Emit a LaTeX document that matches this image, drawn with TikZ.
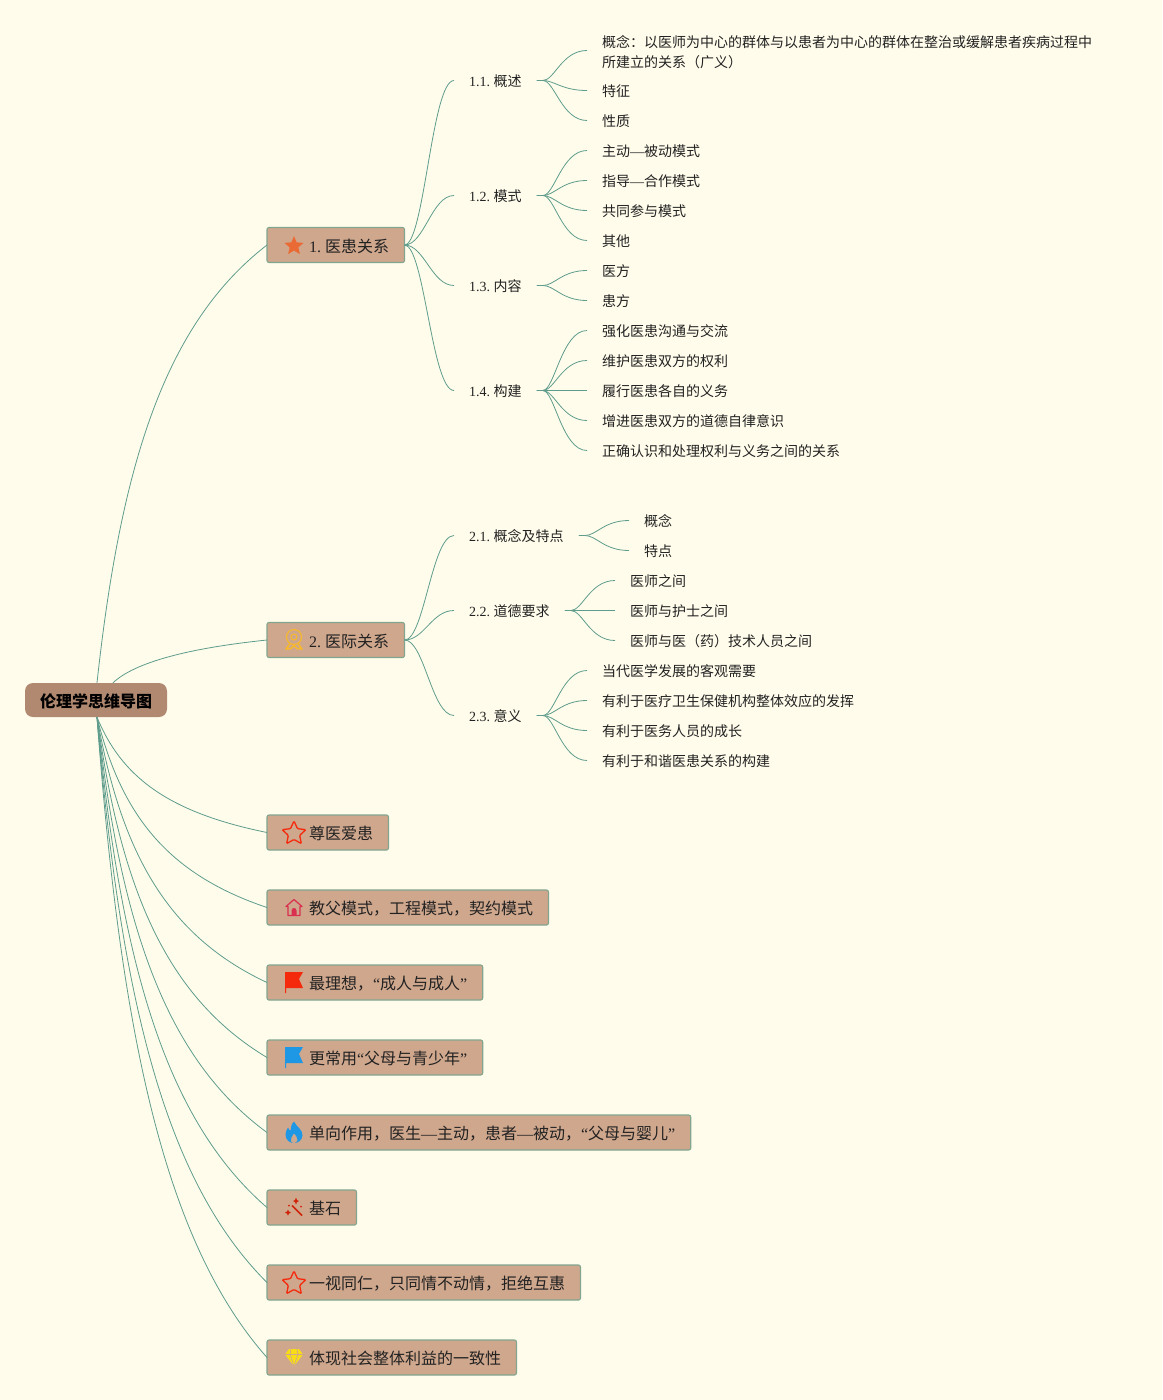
\documentclass[tikz,border=0pt]{standalone}
\usepackage{fontspec}
\setmainfont{Liberation Serif}
\newfontfamily\cjk{Noto Sans CJK SC}
\newcommand{\zh}[1]{{\cjk #1}}
\usetikzlibrary{positioning, calc, shapes.geometric}
\definecolor{paper}{HTML}{FFFCEB}
\definecolor{ink}{HTML}{222222}
\definecolor{linkc}{HTML}{5E9C8C}
\definecolor{topicbg}{HTML}{CFA78D}
\definecolor{topicline}{HTML}{82A58F}
\definecolor{rootbg}{HTML}{B08970}
\definecolor{iconred}{HTML}{F52A0C}
\definecolor{iconblue}{HTML}{1E98E5}
\definecolor{iconorange}{HTML}{EA6A35}
\definecolor{iconyellow}{HTML}{F5B82E}
\definecolor{iconrose}{HTML}{D9304F}
\definecolor{icongem}{HTML}{F7DC16}
\tikzset{
  root/.style={
    draw=none,
    fill=rootbg,
    rounded corners=8pt,
    minimum width=142pt, minimum height=34pt,
    inner sep=0pt,
    text height=16.2pt, text depth=2pt,
    font=\fontsize{16}{20}\selectfont\bfseries\frenchspacing
  },
  topic/.style={
    anchor=west,
    draw=topicline, line width=1.1pt,
    fill=topicbg,
    text=ink,
    rounded corners=2pt,
    minimum height=35pt,
    outer sep=0pt,
    inner xsep=15.5pt, inner ysep=0pt,
    text height=16.2pt, text depth=2pt,
    font=\fontsize{16}{20}\selectfont\frenchspacing,
    execute at begin node=\hspace*{26.5pt}
  },
  subtopic/.style={
    anchor=west,
    text=ink,
    inner xsep=15pt, inner ysep=0pt,
    text height=14.6pt, text depth=2pt,
    font=\fontsize{14}{20}\selectfont\frenchspacing
  },
  leaf/.style={
    anchor=west,
    text=ink,
    inner xsep=15pt, inner ysep=0pt,
    text height=14.6pt, text depth=2pt,
    font=\fontsize{14}{20}\selectfont\frenchspacing
  },
  link/.style={
    color=linkc, line width=0.8pt,
    to path={let \p1=(\tikztostart), \p2=(\tikztotarget) in
      .. controls ({\x1+0.4*(\x2-\x1)},\y1) and ({\x1+0.55*(\x2-\x1)},\y2) .. (\tikztotarget)}
  },
  leaflink/.style={
    color=linkc, line width=0.8pt,
    to path={let \p1=(\tikztostart), \p2=(\tikztotarget) in
      -- ({\x1+6pt},\y1) .. controls ({\x1+0.35*(\x2-\x1)},\y1) and ({\x1+0.5*(\x2-\x1)},\y2) .. (\tikztotarget)}
  },
  rootlink/.style={
    color=linkc, line width=0.8pt,
    to path={let \p1=(\tikztostart), \p2=(\tikztotarget) in
      .. controls ({\x1+0.14*(\x2-\x1)},{\y1+0.5*(\y2-\y1)}) and ({\x1+0.4*(\x2-\x1)},{\y1+0.82*(\y2-\y1)}) .. (\tikztotarget)}
  },
  starfull/.style={star, star points=5, star point ratio=2.2, fill=iconorange, minimum size=20pt, inner sep=0pt},
  starline/.style={star, star points=5, star point ratio=2.1, draw=iconred, line width=1.3pt, rounded corners=1pt, minimum size=25pt, inner sep=0pt},
  pics/medal/.style={code={
    \draw[iconyellow, line width=1.2pt] (0,-3) circle (7.5);
    \draw[iconyellow, line width=1.1pt] (0,-3) circle (3);
    \draw[iconyellow, line width=1.6pt, line join=round] (-4,3.5) -- (-8,9) -- (-3,8.5) -- (0,5.5) -- (3,8.5) -- (8,9) -- (4,3.5);
  }},
  pics/house/.style={code={
    \draw[iconrose, line width=1.2pt, line join=round] (-8,-1) -- (0,-8) -- (8,-1) -- (6,-1) -- (6,8) -- (-6,8) -- (-6,-1) -- cycle;
    \fill[iconrose] (-2.5,8) -- (-2.5,3) arc (180:360:2.5) -- (2.5,8) -- cycle;
  }},
  pics/flag/.style={code={
    \fill[#1] (-9,-10) -- (9,-10) -- (5,-3) -- (9,6) -- (-8,6) -- (-8,11) -- (-9,11) -- cycle;
  }},
  pics/flame/.style={code={
    \fill[iconblue] (0,-11) .. controls (2,-6) and (9,-3) .. (8.5,3) .. controls (8,8) and (4,10.5) .. (0,10.5)
      .. controls (-5,10.5) and (-8.5,7) .. (-8.5,2) .. controls (-8.5,-1) and (-7,-3) .. (-6,-5)
      .. controls (-5,-3) and (-4.5,-2) .. (-3.5,-2) .. controls (-3,-5) and (-3,-8) .. (0,-11) -- cycle;
    \fill[topicbg] (0,10.5) .. controls (-3,10.5) and (-4,7) .. (-2.5,5) .. controls (-1.5,3.5) and (-0.5,3) .. (0,1)
      .. controls (1,3) and (4,5) .. (3.5,7.5) .. controls (3,9.5) and (1.5,10.5) .. (0,10.5) -- cycle;
  }},
  pics/wand/.style={code={
    \draw[iconred!85!black, line width=1.6pt] (-2,-2) -- (8,8);
    \fill[iconred!85!black] (-6,2) -- (-5,4) -- (-3,5) -- (-5,6) -- (-6,8) -- (-7,6) -- (-9,5) -- (-7,4) -- cycle;
    \fill[iconred!85!black] (2,-10) -- (3,-7.5) -- (5,-6.5) -- (3,-5.5) -- (2,-3) -- (1,-5.5) -- (-1,-6.5) -- (1,-7.5) -- cycle;
    \fill[iconred!85!black] (-5,-2) circle (1);
    \fill[iconred!85!black] (7,-1) circle (1);
  }},
  pics/gem/.style={code={
    \fill[icongem, line join=round] (-5,-8.5) -- (5,-8.5) -- (9,-3) -- (0,8.5) -- (-9,-3) -- cycle;
    \draw[topicbg, line width=0.7pt] (-9,-3) -- (9,-3) (-3,-8.5) -- (-4,-3) -- (0,8.5) -- (4,-3) -- (3,-8.5);
  }}
}
\begin{document}
\begin{tikzpicture}[x=1pt, y=-1pt]
  \useasboundingbox (0,0) rectangle (1162,1400);
  \fill[paper] (0,0) rectangle (1162,1400);

  \node[root] (main) at (96,700) {\zh{伦理学思维导图}};

  \node[topic] (yihuan) at (267,245) {1. \zh{医患关系}};
  \node[topic] (yiji) at (267,640) {2. \zh{医际关系}};
  \node[topic] (zunyi) at (267,832.5) {\zh{尊医爱患}};
  \node[topic] (jiaofu) at (267,907.5) {\zh{教父模式，工程模式，契约模式}};
  \node[topic] (lixiang) at (267,982.5) {\zh{最理想，}“\zh{成人与成人}”};
  \node[topic] (changyong) at (267,1057.5) {\zh{更常用}“\zh{父母与青少年}”};
  \node[topic] (danxiang) at (267,1132.5) {\zh{单向作用，医生}—\zh{主动，患者}—\zh{被动，}“\zh{父母与婴儿}”};
  \node[topic] (jishi) at (267,1207.5) {\zh{基石}};
  \node[topic] (yishi) at (267,1282.5) {\zh{一视同仁，只同情不动情，拒绝互惠}};
  \node[topic] (tixian) at (267,1357.5) {\zh{体现社会整体利益的一致性}};

  \node[subtopic] (gaishu) at (454,80.5) {1.1. \zh{概述}};
  \node[subtopic] (moshi) at (454,195.5) {1.2. \zh{模式}};
  \node[subtopic] (neirong) at (454,285.5) {1.3. \zh{内容}};
  \node[subtopic] (goujian) at (454,390.5) {1.4. \zh{构建}};
  \node[subtopic] (tedian) at (454,535.5) {2.1. \zh{概念及特点}};
  \node[subtopic] (daode) at (454,610.5) {2.2. \zh{道德要求}};
  \node[subtopic] (yiyi) at (454,715.5) {2.3. \zh{意义}};

  \node[leaf, align=left, text height=, text depth=] (a1) at (587,52) {\zh{概念：以医师为中心的群体与以患者为中心的群体在整治或缓解患者疾病过程中}\\\zh{所建立的关系（广义）}};
  \node[leaf] (a2) at (587,90.5) {\zh{特征}};
  \node[leaf] (a3) at (587,120.5) {\zh{性质}};
  \node[leaf] (b1) at (587,150.5) {\zh{主动}—\zh{被动模式}};
  \node[leaf] (b2) at (587,180.5) {\zh{指导}—\zh{合作模式}};
  \node[leaf] (b3) at (587,210.5) {\zh{共同参与模式}};
  \node[leaf] (b4) at (587,240.5) {\zh{其他}};
  \node[leaf] (c1) at (587,270.5) {\zh{医方}};
  \node[leaf] (c2) at (587,300.5) {\zh{患方}};
  \node[leaf] (d1) at (587,330.5) {\zh{强化医患沟通与交流}};
  \node[leaf] (d2) at (587,360.5) {\zh{维护医患双方的权利}};
  \node[leaf] (d3) at (587,390.5) {\zh{履行医患各自的义务}};
  \node[leaf] (d4) at (587,420.5) {\zh{增进医患双方的道德自律意识}};
  \node[leaf] (d5) at (587,450.5) {\zh{正确认识和处理权利与义务之间的关系}};
  \node[leaf] (e1) at (629,520.5) {\zh{概念}};
  \node[leaf] (e2) at (629,550.5) {\zh{特点}};
  \node[leaf] (f1) at (615,580.5) {\zh{医师之间}};
  \node[leaf] (f2) at (615,610.5) {\zh{医师与护士之间}};
  \node[leaf] (f3) at (615,640.5) {\zh{医师与医（药）技术人员之间}};
  \node[leaf] (g1) at (587,670.5) {\zh{当代医学发展的客观需要}};
  \node[leaf] (g2) at (587,700.5) {\zh{有利于医疗卫生保健机构整体效应的发挥}};
  \node[leaf] (g3) at (587,730.5) {\zh{有利于医务人员的成长}};
  \node[leaf] (g4) at (587,760.5) {\zh{有利于和谐医患关系的构建}};

  \draw[rootlink] ($(main.north)+(1,0)$) to (yihuan.west);
  \draw[link] ($(main.north)+(17,0)$) .. controls (135,662) and (190,648) .. (yiji.west);
  \draw[rootlink] ($(main.south)+(1,0)$) to (zunyi.west);
  \draw[rootlink] ($(main.south)+(1,0)$) to (jiaofu.west);
  \draw[rootlink] ($(main.south)+(1,0)$) to (lixiang.west);
  \draw[rootlink] ($(main.south)+(1,0)$) to (changyong.west);
  \draw[rootlink] ($(main.south)+(1,0)$) to (danxiang.west);
  \draw[rootlink] ($(main.south)+(1,0)$) to (jishi.west);
  \draw[rootlink] ($(main.south)+(1,0)$) to (yishi.west);
  \draw[rootlink] ($(main.south)+(1,0)$) to (tixian.west);

  \draw[link] (yihuan.east) to (gaishu.west);
  \draw[link] (yihuan.east) to (moshi.west);
  \draw[link] (yihuan.east) to (neirong.west);
  \draw[link] (yihuan.east) to (goujian.west);
  \draw[link] (yiji.east) to (tedian.west);
  \draw[link] (yiji.east) to (daode.west);
  \draw[link] (yiji.east) to (yiyi.west);

  \draw[leaflink] (gaishu.east) to ($(a1.west)+(0,-1.5)$);
  \draw[leaflink] (gaishu.east) to (a2.west);
  \draw[leaflink] (gaishu.east) to (a3.west);
  \draw[leaflink] (moshi.east) to (b1.west);
  \draw[leaflink] (moshi.east) to (b2.west);
  \draw[leaflink] (moshi.east) to (b3.west);
  \draw[leaflink] (moshi.east) to (b4.west);
  \draw[leaflink] (neirong.east) to (c1.west);
  \draw[leaflink] (neirong.east) to (c2.west);
  \draw[leaflink] (goujian.east) to (d1.west);
  \draw[leaflink] (goujian.east) to (d2.west);
  \draw[leaflink] (goujian.east) to (d3.west);
  \draw[leaflink] (goujian.east) to (d4.west);
  \draw[leaflink] (goujian.east) to (d5.west);
  \draw[leaflink] (tedian.east) to (e1.west);
  \draw[leaflink] (tedian.east) to (e2.west);
  \draw[leaflink] (daode.east) to (f1.west);
  \draw[leaflink] (daode.east) to (f2.west);
  \draw[leaflink] (daode.east) to (f3.west);
  \draw[leaflink] (yiyi.east) to (g1.west);
  \draw[leaflink] (yiyi.east) to (g2.west);
  \draw[leaflink] (yiyi.east) to (g3.west);
  \draw[leaflink] (yiyi.east) to (g4.west);

  \node[starfull] (icon1) at (294,246) {};
  \pic at (294,640) {medal};
  \node[starline] (icon3) at (294,833.5) {};
  \pic at (294,907.5) {house};
  \pic at (294,982) {flag=iconred};
  \pic at (294,1057) {flag=iconblue};
  \pic at (294,1132.5) {flame};
  \pic at (294,1207.5) {wand};
  \node[starline] (icon9) at (294,1283.5) {};
  \pic at (294,1357.5) {gem};
\end{tikzpicture}
\end{document}
